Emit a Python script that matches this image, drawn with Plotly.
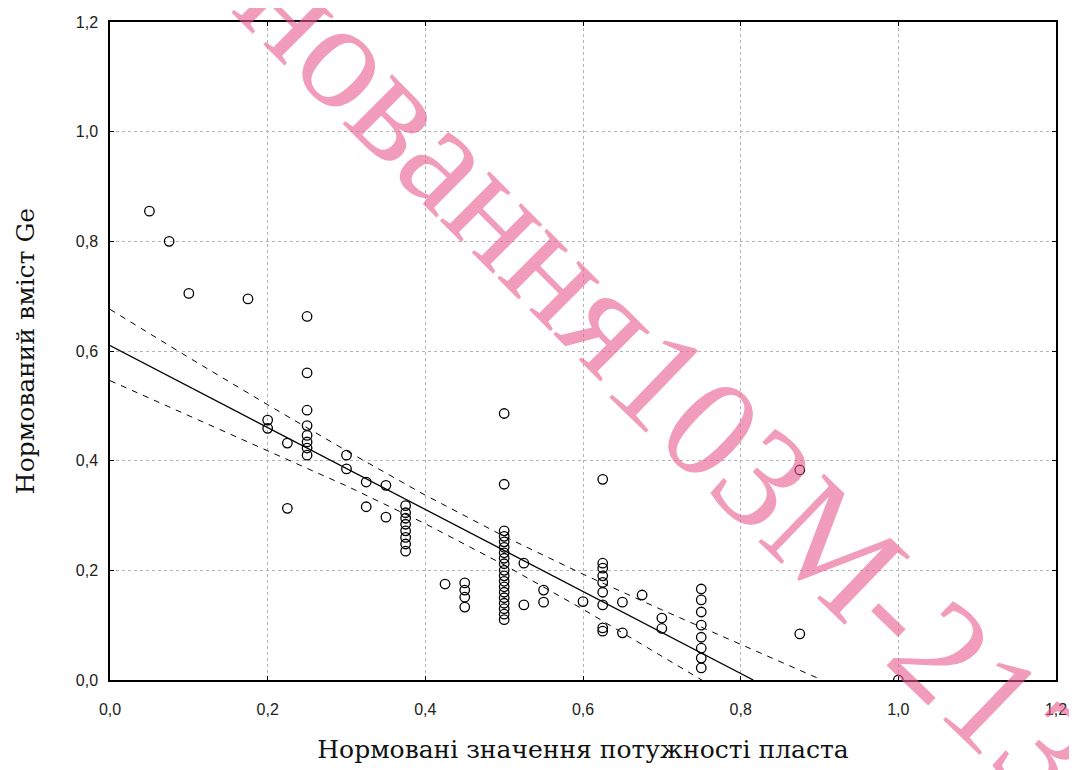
import plotly.graph_objects as go

# ---- scatter data (normalised seam thickness vs normalised Ge content) ----
x_pts = [0.05, 0.075, 0.10, 0.175,
         0.20, 0.20, 0.225, 0.225,
         0.25, 0.25, 0.25, 0.25, 0.25, 0.25, 0.25, 0.25,
         0.30, 0.30, 0.325, 0.325, 0.35, 0.35,
         0.375, 0.375, 0.375, 0.375, 0.375, 0.375, 0.375, 0.375,
         0.425, 0.45, 0.45, 0.45, 0.45,
         0.50, 0.50,
         0.50, 0.50, 0.50, 0.50, 0.50, 0.50, 0.50, 0.50, 0.50, 0.50,
         0.50, 0.50, 0.50, 0.50, 0.50, 0.50, 0.50,
         0.525, 0.525, 0.55, 0.55, 0.60,
         0.625, 0.625, 0.625, 0.625, 0.625, 0.625, 0.625, 0.625, 0.625,
         0.65, 0.65, 0.675, 0.70, 0.70,
         0.75, 0.75, 0.75, 0.75, 0.75, 0.75, 0.75, 0.75,
         0.875, 0.875, 1.0]
y_pts = [0.855, 0.80, 0.705, 0.695,
         0.474, 0.459, 0.432, 0.313,
         0.663, 0.560, 0.492, 0.464, 0.446, 0.434, 0.423, 0.410,
         0.410, 0.385, 0.361, 0.316, 0.355, 0.297,
         0.318, 0.305, 0.295, 0.284, 0.272, 0.260, 0.248, 0.235,
         0.175, 0.177, 0.164, 0.151, 0.133,
         0.486, 0.357,
         0.272, 0.262, 0.252, 0.242, 0.232, 0.222, 0.212, 0.200, 0.190, 0.180,
         0.170, 0.160, 0.150, 0.140, 0.130, 0.120, 0.110,
         0.213, 0.137, 0.164, 0.142, 0.143,
         0.366, 0.213, 0.204, 0.190, 0.178, 0.160, 0.137, 0.095, 0.089,
         0.142, 0.086, 0.155, 0.113, 0.094,
         0.166, 0.146, 0.124, 0.100, 0.078, 0.058, 0.040, 0.022,
         0.383, 0.084, 0.0]

# ---- regression line ----
fit_x = [0.0, 0.816]
fit_y = [0.610, 0.0]

# ---- confidence band (at fixed x) ----
band_x = [0.0, 0.1, 0.2, 0.3, 0.4, 0.5, 0.6, 0.7, 0.8, 0.9]
band_upper = [0.676, 0.588, 0.502, 0.418, 0.337, 0.262, 0.193, 0.128, 0.065, 0.002]
band_lower = [0.546, 0.482, 0.418, 0.354, 0.285, 0.210, 0.129, 0.044, -0.041, -0.128]

tick_vals = [0.0, 0.2, 0.4, 0.6, 0.8, 1.0, 1.2]

x_title = "Нормовані значення потужності пласта"
y_title = "Нормований вміст Ge"
watermark_word = "новання"
watermark_code = "103М-213-"

fig = go.Figure()
fig.add_trace(go.Scatter(x=band_x, y=band_upper, mode="lines",
                         line=dict(color="black", width=1, dash="6px,6px")))
fig.add_trace(go.Scatter(x=band_x, y=band_lower, mode="lines",
                         line=dict(color="black", width=1, dash="6px,6px")))
fig.add_trace(go.Scatter(x=fit_x, y=fit_y, mode="lines",
                         line=dict(color="black", width=1.3)))
fig.add_trace(go.Scatter(x=x_pts, y=y_pts, mode="markers",
                         marker=dict(symbol="circle-open", size=9.5, color="black",
                                     line=dict(width=1.3, color="black"))))

axis_common = dict(
    tickvals=tick_vals, tickformat=".1f", ticks="inside", ticklen=4,
    tickcolor="black", tickwidth=1, mirror="ticks", showline=True,
    linecolor="black", linewidth=1.5, showgrid=True, gridcolor="#b3b3b3",
    griddash="dot", gridwidth=1, zeroline=False, automargin=False,
    tickfont=dict(family="Liberation Sans", size=16, color="#222"),
)
fig.update_xaxes(range=[0, 1.2], **axis_common,
                 title=dict(text=x_title, standoff=24,
                            font=dict(family="DejaVu Serif", size=25, color="#111")),
                 ticklabelstandoff=14)
fig.update_yaxes(range=[0, 1.2], **axis_common,
                 title=dict(text=y_title, standoff=34,
                            font=dict(family="DejaVu Serif", size=25, color="#111")),
                 ticklabelstandoff=7)

fig.add_annotation(text=watermark_word, xref="paper", yref="paper", x=0.3615, y=0.788,
                   xanchor="center", yanchor="middle", textangle=45, showarrow=False,
                   font=dict(family="Liberation Serif", size=152,
                             color="rgba(232,90,140,0.6)"))
fig.add_annotation(text=watermark_code, xref="paper", yref="paper", x=0.803, y=0.150,
                   xanchor="center", yanchor="middle", textangle=44, showarrow=False,
                   font=dict(family="Liberation Serif", size=144,
                             color="rgba(232,90,140,0.6)"))

fig.update_layout(width=1077, height=770, margin=dict(l=102, r=29, t=14, b=98),
                  paper_bgcolor="white", plot_bgcolor="white", separators=", ",
                  showlegend=False)
fig.write_html("out.html")
